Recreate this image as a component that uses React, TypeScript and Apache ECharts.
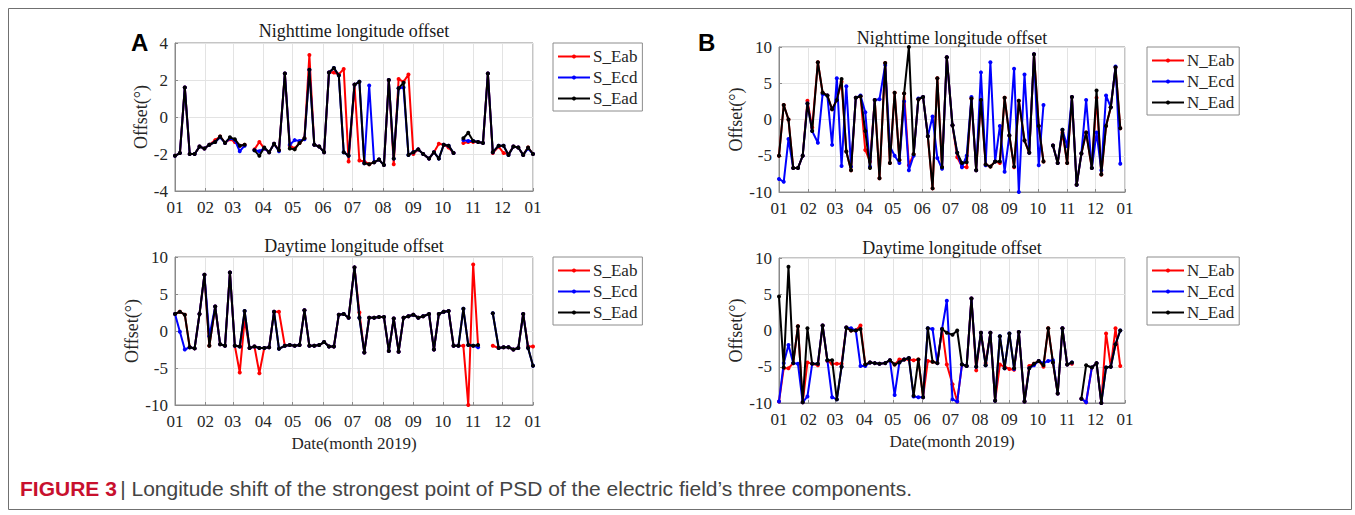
import React, { useEffect, useRef } from "react";
import * as echarts from "echarts";

// Sample dates (day of 2019, 5-day cadence)
const sampleDays = [0, 5, 10, 15, 20, 25, 30, 35, 41, 46, 51, 56, 61, 66, 71, 76, 81, 86, 91, 96, 101, 106, 112, 117, 122, 127, 132, 137, 142, 147, 152, 157, 162, 167, 172, 177, 183, 188, 193, 198, 203, 208, 213, 218, 223, 228, 233, 238, 243, 248, 253, 259, 264, 269, 274, 279, 284, 289, 294, 299, 304, 309, 314, 319, 324, 330, 335, 340, 345, 350, 355, 360, 365];

// Month ticks (day of year at month start)
const monthTickDays = [0, 31, 59, 90, 120, 151, 181, 212, 243, 273, 304, 334, 365];
const monthTickLabels = ["01", "02", "03", "04", "05", "06", "07", "08", "09", "10", "11", "12", "01"];

const southNames = ["S_Eab", "S_Ecd", "S_Ead"];
const northNames = ["N_Eab", "N_Ecd", "N_Ead"];

// Panel A, nighttime (south)
const sNightEab = [
  -2.1, -1.95, 1.6, -2.0, -2.0, -1.6, -1.7, -1.5, -1.25, -1.05,
  -1.4, -1.2, -1.35, -1.55, -1.5, null, -1.75, -1.35, -1.7, -1.9,
  -1.45, -1.8, 2.35, -1.55, -1.7, -1.4, -1.15, 3.35, -1.5, -1.6,
  -1.9, 2.4, 2.4, 2.3, 2.6, -2.4, 1.75, -2.35, -2.4, -2.55,
  -2.45, -2.3, -2.6, 2.0, -2.55, 2.05, 1.9, 2.3, -2.0, -1.75,
  -2.0, -2.25, -1.9, -1.45, -1.5, -1.65, -1.95, null, -1.4, -1.35,
  -1.35, -1.35, -1.4, 2.35, -1.95, -1.6, -1.95, -2.0, -1.6, -1.65,
  -2.05, -1.65, -2.0,
];
const sNightEcd = [
  -2.1, -1.95, 1.6, -2.0, -2.0, -1.6, -1.7, -1.5, -1.35, -1.1,
  -1.4, -1.15, -1.25, -1.85, -1.55, null, -1.8, -1.85, -1.7, -1.9,
  -1.45, -1.85, 2.35, -1.5, -1.25, -1.3, -1.2, 2.55, -1.5, -1.6,
  -1.9, 2.4, 2.65, 2.25, -1.9, -2.1, 1.75, 1.9, -2.5, 1.7,
  -2.45, -2.3, -2.6, 2.0, -2.25, 1.55, 1.6, -2.05, -1.9, -1.75,
  -2.0, -2.25, -1.9, -2.25, -1.5, -1.55, -1.95, null, -1.25, -1.3,
  -1.3, -1.35, -1.4, 2.35, -1.9, -1.55, -1.55, -2.05, -1.6, -1.65,
  -2.05, -1.7, -2.0,
];
const sNightEad = [
  -2.1, -1.95, 1.6, -2.0, -2.0, -1.6, -1.7, -1.5, -1.35, -1.05,
  -1.4, -1.1, -1.2, -1.55, -1.5, null, -1.8, -2.1, -1.65, -1.9,
  -1.45, -1.8, 2.35, -1.7, -1.75, -1.4, -1.15, 2.55, -1.5, -1.6,
  -1.9, 2.4, 2.65, 2.25, -1.9, -2.1, 1.75, 1.9, -2.5, -2.55,
  -2.45, -2.3, -2.6, 2.0, -2.25, 1.55, 1.85, -2.05, -1.9, -1.75,
  -2.0, -2.25, -1.9, -2.25, -1.5, -1.55, -1.95, null, -1.15, -0.85,
  -1.3, -1.35, -1.4, 2.35, -1.9, -1.55, -1.55, -2.05, -1.6, -1.65,
  -2.05, -1.65, -2.0,
];

// Panel A, daytime (south)
const sDayEab = [
  2.3, 2.6, 2.2, -2.2, -2.35, 2.3, 7.6, -2.0, 3.3, -1.8,
  -2.0, 7.9, -2.0, -5.6, 1.5, -2.3, -2.1, -5.7, -2.3, -2.2,
  2.6, 2.6, -2.0, -1.9, -2.0, -1.9, 2.8, -2.0, -2.0, -1.9,
  -1.5, -2.1, -2.1, 2.2, 2.3, 1.8, 8.6, 2.5, -2.9, 1.8,
  1.8, 1.9, 1.9, -2.7, 1.7, -2.8, 1.8, 2.0, 2.2, 1.8,
  2.0, 2.3, -2.5, 2.3, 2.6, 2.7, -2.0, -2.0, -2.0, -10.0,
  9.0, -2.0, null, null, -2.0, -2.3, -2.2, -2.2, -2.5, -2.3,
  2.3, -2.1, -2.1,
];
const sDayEcd = [
  2.3, -0.1, -2.5, -2.2, -2.35, 2.3, 7.6, -0.7, 3.3, -1.8,
  -2.0, 7.9, -2.0, -2.1, 2.7, -2.3, -2.1, -2.3, -2.3, -2.2,
  2.6, -2.4, -2.0, -1.9, -2.0, -1.9, 2.8, -2.0, -2.0, -1.9,
  -1.5, -2.1, -2.1, 2.2, 2.3, 1.8, 8.6, 1.8, -2.9, 1.8,
  1.8, 1.9, 1.9, -2.7, 1.7, -2.8, 1.8, 2.0, 2.2, 1.8,
  2.0, 2.3, -2.5, 2.3, 2.6, 2.7, -2.0, -2.0, 3.0, -1.9,
  -2.0, -2.2, null, null, 2.4, -2.3, -2.2, -2.2, -2.5, -2.3,
  2.3, -2.3, -4.7,
];
const sDayEad = [
  2.3, 2.6, 2.2, -2.2, -2.35, 2.3, 7.6, -2.0, 3.3, -1.8,
  -2.0, 7.9, -2.0, -2.1, 2.7, -2.3, -2.1, -2.3, -2.3, -2.2,
  2.6, -2.4, -2.0, -1.9, -2.0, -1.9, 2.8, -2.0, -2.0, -1.9,
  -1.5, -2.1, -2.1, 2.2, 2.3, 1.8, 8.6, 1.8, -2.9, 1.8,
  1.8, 1.9, 1.9, -2.7, 1.7, -2.8, 1.8, 2.0, 2.2, 1.8,
  2.0, 2.3, -2.5, 2.3, 2.6, 2.7, -2.0, -2.0, 3.0, -1.9,
  -2.0, -1.9, null, null, 2.4, -2.3, -2.2, -2.2, -2.5, -2.3,
  2.3, -2.3, -4.7,
];

// Panel B, nighttime (north)
const nNightEab = [
  -5.0, 2.0, 0.0, -6.7, -6.7, -5.0, 2.6, -1.1, 7.9, 3.7,
  3.3, 1.4, 2.7, 5.2, -4.4, -7.0, 3.0, 3.2, -4.2, -5.8,
  2.7, -8.1, 7.8, -6.0, 3.7, -5.6, 3.6, -6.3, -4.8, 2.8,
  3.1, -2.3, -9.5, 5.7, -6.6, 8.6, -0.8, -5.2, -6.5, -6.6,
  2.9, -7.0, 2.7, -6.2, -6.5, -5.8, -6.0, 3.0, -2.2, -6.6,
  2.6, -2.9, -4.6, 9.0, -0.9, -5.8, null, -3.6, -6.0, -1.8,
  -6.0, 3.1, -9.0, -4.7, -1.8, -6.7, 3.0, -7.6, -0.9, 1.7,
  7.2, -1.2, null,
];
const nNightEcd = [
  -8.2, -8.6, -2.7, -6.7, -6.7, -5.0, 2.2, -1.6, -3.2, 3.5,
  3.3, -3.5, 5.7, -6.4, 4.6, -6.5, 3.0, 3.3, 1.0, -6.5,
  2.7, 2.8, 7.5, -3.7, -5.0, -6.0, 2.5, -7.0, -5.0, 2.9,
  3.1, -2.3, 0.4, -5.3, -6.8, 8.6, -0.8, -4.6, -6.6, -5.0,
  3.1, -7.0, 6.5, -6.3, 7.9, -5.8, -0.9, -7.2, -2.2, 7.0,
  -10.0, 6.2, -4.6, 9.0, -6.3, 2.0, null, -3.6, -6.0, -1.4,
  -3.7, 3.1, -9.0, -4.7, 2.7, -6.7, -1.8, -7.0, 3.3, 1.7,
  7.3, -6.1, null,
];
const nNightEad = [
  -5.0, 2.0, 0.0, -6.7, -6.7, -5.0, 2.2, -1.6, 7.9, 3.7,
  3.3, 1.4, 2.7, 5.6, -4.4, -7.0, 3.0, 3.2, -1.6, -6.7,
  2.7, -8.1, 7.8, -6.0, 3.7, -5.6, 3.6, 10.0, -4.8, 2.8,
  3.1, -2.3, -9.5, 5.7, -6.6, 8.6, -0.8, -4.6, -6.0, -5.9,
  2.9, -7.0, 2.7, -6.2, -6.5, -5.8, -5.8, 3.0, -2.2, -6.5,
  2.6, -2.9, -4.6, 9.0, -0.9, -5.8, null, -3.6, -6.0, -1.4,
  -6.0, 3.1, -9.0, -4.7, -1.8, -6.7, 4.0, -7.6, -0.9, 1.7,
  7.2, -1.2, null,
];

// Panel B, daytime (north)
const nDayEab = [
  -9.8, -5.2, -5.2, -4.5, 0.6, -9.9, -4.4, -4.6, -4.8, 0.7,
  -4.2, -4.6, -4.6, -4.6, 0.4, 0.0, 0.0, 0.7, -4.7, -4.4,
  -4.5, -4.6, -4.5, -4.1, -4.7, -4.0, -4.0, -4.0, -4.1, -4.0,
  -9.2, -4.2, -4.3, -4.5, 0.2, -4.7, -7.4, -9.8, -4.7, -4.9,
  4.4, -5.5, -0.3, -4.5, -0.3, -9.7, -4.7, -5.0, -5.3, -5.4,
  -0.2, -9.8, -4.9, -4.6, -4.2, -5.0, 0.3, -4.4, -8.7, 0.3,
  -4.7, -4.6, null, -9.4, -9.9, -5.1, -4.5, -10.0, -0.4, -5.0,
  0.3, -4.9, null,
];
const nDayEcd = [
  -9.8, -4.5, -2.0, -4.5, -4.6, -9.9, -9.1, -4.6, -4.6, 0.7,
  -4.1, -9.2, -9.5, -5.0, 0.4, 0.3, 0.0, -4.9, -4.9, -4.4,
  -4.5, -4.6, -4.5, -4.1, -8.9, -4.4, -4.0, -3.8, -9.1, -9.2,
  -9.2, 0.3, 0.2, -4.5, 0.2, 4.1, -9.5, -9.8, -4.7, -4.9,
  4.4, -5.0, -0.3, -4.8, -0.3, -9.7, -0.8, -5.2, -0.4, -5.3,
  -0.2, -9.8, -5.2, -4.8, -4.2, -4.5, -4.2, -4.1, -8.7, 0.3,
  -4.7, -4.4, null, -9.4, -9.9, -5.1, -4.5, -10.0, -5.1, -5.0,
  -1.9, 0.0, null,
];
const nDayEad = [
  4.7, -5.1, 8.8, -4.5, 0.6, -9.9, 0.3, -4.6, -4.6, 0.7,
  -4.1, -4.1, -9.5, -5.0, 0.4, 0.0, 0.0, 0.2, -4.7, -4.4,
  -4.5, -4.6, -4.5, -4.1, -4.7, -4.4, -4.0, -3.8, -9.0, -4.0,
  -9.2, 0.3, -4.3, -4.5, 0.2, -0.3, -0.6, 0.0, -4.7, -4.9,
  4.4, -5.0, -0.3, -4.8, -0.3, -9.7, -0.8, -5.2, -0.4, -5.2,
  -0.2, -9.8, -5.2, -4.6, -4.2, -4.8, 0.3, -4.4, -8.7, 0.3,
  -4.7, -4.4, null, -9.4, -4.8, -5.1, -4.5, -10.0, -5.1, -5.0,
  -1.9, 0.0, null,
];

const seriesColors = ["#ff0000", "#0000ff", "#000000"];
const SERIF = "'Liberation Serif', 'Times New Roman', serif";
const SANS = "'Liberation Sans', Arial, sans-serif";

const panels = [
  {
    grid: { left: 175, top: 43, width: 358, height: 148 },
    yMin: -4, yMax: 4, yStep: 2, nameGap: 24, xName: "",
    title: "Nighttime longitude offset", titleX: 354, titleY: 31,
    names: southNames, values: [sNightEab, sNightEcd, sNightEad],
    legend: { left: 553, top: 43 },
  },
  {
    grid: { left: 175, top: 257, width: 358, height: 148 },
    yMin: -10, yMax: 10, yStep: 5, nameGap: 30, xName: "Date(month 2019)",
    title: "Daytime longitude offset", titleX: 354, titleY: 246,
    names: southNames, values: [sDayEab, sDayEcd, sDayEad],
    legend: { left: 553, top: 257 },
  },
  {
    grid: { left: 779, top: 47, width: 346, height: 145 },
    yMin: -10, yMax: 10, yStep: 5, nameGap: 34, xName: "",
    title: "Nighttime longitude offset", titleX: 952, titleY: 38,
    names: northNames, values: [nNightEab, nNightEcd, nNightEad],
    legend: { left: 1147, top: 47 },
  },
  {
    grid: { left: 779, top: 258, width: 346, height: 145 },
    yMin: -10, yMax: 10, yStep: 5, nameGap: 34, xName: "Date(month 2019)",
    title: "Daytime longitude offset", titleX: 952, titleY: 248,
    names: northNames, values: [nDayEab, nDayEcd, nDayEad],
    legend: { left: 1147, top: 257 },
  },
];

const axisGray = "#8a8a8a";
const gridGray = "#e3e3e3";
const textDark = "#262626";

function buildOption() {
  const grid: any[] = [];
  const xAxis: any[] = [];
  const yAxis: any[] = [];
  const series: any[] = [];
  const legend: any[] = [];
  const graphic: any[] = [];

  panels.forEach((p, i) => {
    grid.push({ ...p.grid, show: true, borderColor: axisGray, borderWidth: 1, backgroundColor: "transparent" });
    xAxis.push({
      gridIndex: i,
      type: "value",
      min: 0,
      max: 365,
      axisLine: { show: true, onZero: false, lineStyle: { color: axisGray, width: 1 } },
      axisTick: { show: true, inside: true, length: 3, customValues: monthTickDays, lineStyle: { color: axisGray } },
      axisLabel: {
        customValues: monthTickDays,
        formatter: (v: number) => monthTickLabels[monthTickDays.indexOf(v)] ?? "",
        fontFamily: SERIF,
        fontSize: 17,
        color: textDark,
        margin: 8,
      },
      splitLine: { show: true, lineStyle: { color: gridGray, width: 1 } },
      name: p.xName,
      nameLocation: "middle",
      nameGap: 30,
      nameTextStyle: { fontFamily: SERIF, fontSize: 17, color: textDark },
    });
    yAxis.push({
      gridIndex: i,
      type: "value",
      min: p.yMin,
      max: p.yMax,
      interval: p.yStep,
      axisLine: { show: true, lineStyle: { color: axisGray, width: 1 } },
      axisTick: { show: true, inside: true, length: 3, lineStyle: { color: axisGray } },
      axisLabel: { fontFamily: SERIF, fontSize: 17, color: textDark, margin: 7 },
      splitLine: { show: true, lineStyle: { color: gridGray, width: 1 } },
      name: "Offset(°)",
      nameLocation: "middle",
      nameGap: p.nameGap,
      nameTextStyle: { fontFamily: SERIF, fontSize: 18, color: textDark },
    });
    p.values.forEach((vals, j) => {
      series.push({
        type: "line",
        name: p.names[j],
        xAxisIndex: i,
        yAxisIndex: i,
        data: sampleDays.map((d, k) => [d, vals[k] === null ? "-" : vals[k]]),
        color: seriesColors[j],
        lineStyle: { width: 2, color: seriesColors[j] },
        itemStyle: { color: seriesColors[j] },
        symbol: "circle",
        symbolSize: 4,
        showSymbol: true,
        connectNulls: false,
        z: 2 + j,
      });
    });
    legend.push({
      data: p.names,
      left: p.legend.left,
      top: p.legend.top,
      orient: "vertical",
      itemWidth: 32,
      itemHeight: 5,
      itemGap: 4,
      padding: [5, 5, 4, 4],
      borderColor: "#8c8c8c",
      borderWidth: 1,
      borderRadius: 0,
      backgroundColor: "#ffffff",
      selectedMode: false,
      textStyle: { fontFamily: SERIF, fontSize: 17, color: textDark, padding: [0, 0, 0, -2] },
    });
    graphic.push({
      type: "text",
      x: p.titleX,
      y: p.titleY,
      silent: true,
      style: {
        text: p.title,
        font: `18px ${SERIF}`,
        fill: "#1a1a1a",
        align: "center",
        textAlign: "center",
        verticalAlign: "middle",
        textVerticalAlign: "middle",
      },
    });
  });

  graphic.push(
    {
      type: "rect",
      shape: { x: 8.5, y: 8.5, width: 1343, height: 501 },
      style: { fill: "none", stroke: "#707070", lineWidth: 1 },
      silent: true,
      z: -10,
    },
    {
      type: "text",
      x: 131,
      y: 42,
      silent: true,
      style: { text: "A", font: `bold 24px ${SANS}`, fill: "#000", verticalAlign: "middle", textVerticalAlign: "middle" },
    },
    {
      type: "text",
      x: 698,
      y: 42,
      silent: true,
      style: { text: "B", font: `bold 24px ${SANS}`, fill: "#000", verticalAlign: "middle", textVerticalAlign: "middle" },
    },
    {
      type: "text",
      x: 20,
      y: 488,
      silent: true,
      style: {
        text: "{r|FIGURE 3} {g|| Longitude shift of the strongest point of PSD of the electric field\u2019s three components.}",
        verticalAlign: "middle",
        textVerticalAlign: "middle",
        rich: {
          r: { fill: "#c8102e", fontWeight: "bold", fontSize: 21, fontFamily: SANS },
          g: { fill: "#444444", fontSize: 21, fontFamily: SANS },
        },
      },
    }
  );

  return {
    animation: false,
    backgroundColor: "#ffffff",
    grid,
    xAxis,
    yAxis,
    legend,
    series,
    graphic,
  };
}

export default function App() {
  const ref = useRef<HTMLDivElement>(null);
  useEffect(() => {
    if (!ref.current) return;
    const chart = echarts.init(ref.current, null, { renderer: "svg" });
    chart.setOption(buildOption() as any);
    return () => chart.dispose();
  }, []);
  return (
    <div
      ref={ref}
      style={{ position: "absolute", left: 0, top: 0, width: 1355, height: 515, background: "#fff" }}
    />
  );
}
